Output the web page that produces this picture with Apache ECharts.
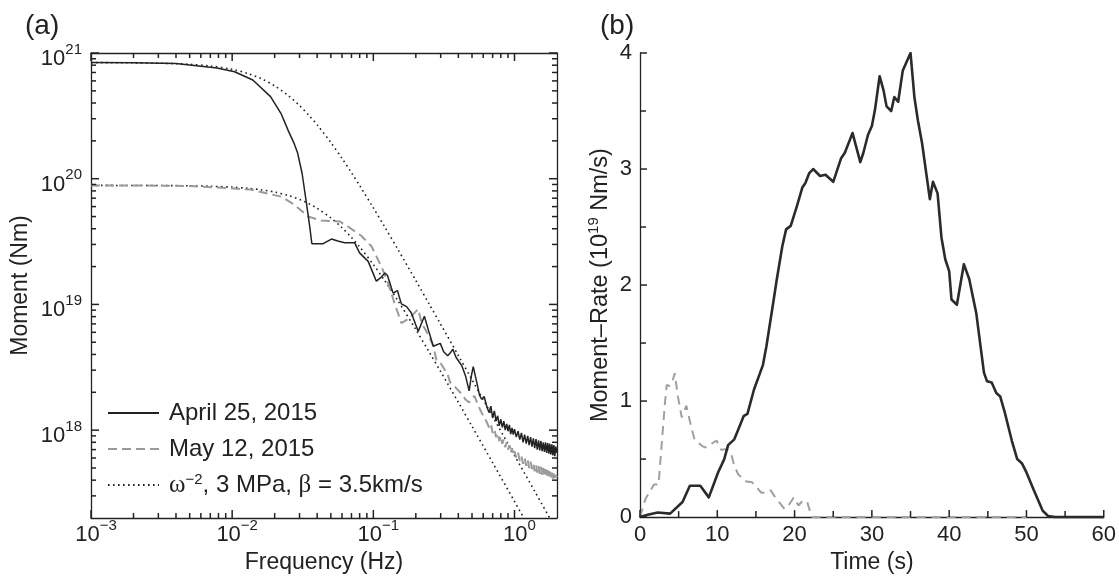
<!DOCTYPE html>
<html><head><meta charset="utf-8">
<script src="https://cdn.jsdelivr.net/npm/echarts@6/dist/echarts.min.js"></script>
<style>html,body{margin:0;padding:0;background:#fff}#c{width:1119px;height:579px}</style>
</head><body><div id="c"></div>
<script>
// ---------- DATA ----------
const seriesNames = ['April 25, 2015', 'May 12, 2015', 'ω^-2, 3 MPa, β = 3.5km/s'];

// (a) spectra
const freqApril = [0.001,0.002,0.004,0.0078,0.0104,0.014,0.0187,0.0222,0.025,0.0275,0.0291,0.0313,0.0335,0.0354,0.0367,0.0441,0.0505,0.056,0.0627,0.0736,0.0799,0.0919,0.1,0.105,0.114,0.121,0.126,0.138,0.148,0.158,0.172,0.186,0.208,0.23,0.245,0.266,0.298,0.315,0.336,0.35,0.366,0.385,0.405,0.424,0.45,0.477,0.495,0.51,0.52,0.545,0.565,0.585,0.61,0.638,
  0.66,0.68,0.70,0.72,0.74,0.76,0.78,0.80,0.82,0.84,0.86,0.88,0.90,0.92,0.94,0.96,0.98,1.00,1.03,1.06,1.09,1.12,1.15,1.18,1.21,1.24,1.27,1.30,1.33,1.36,1.39,1.42,1.45,1.48,1.51,1.54,1.57,1.60,1.63,1.66,1.69,1.72,1.75,1.78,1.81,1.84,1.87,1.90,1.93,1.96,2.00];
const momentApril = [8.4e20,8.38e20,8.25e20,7.6e20,7.1e20,6.1e20,4.5e20,3.3e20,2.4e20,1.9e20,1.6e20,1.1e20,6.5e19,4.2e19,3.04e19,3.04e19,3.31e19,3.2e19,3.1e19,3.1e19,2.57e19,2.2e19,1.75e19,1.53e19,1.65e19,1.78e19,1.7e19,1.23e19,1.29e19,1.01e19,9.6e18,8.55e18,6.1e18,8.05e18,6.3e18,4.65e18,4.9e18,4.2e18,3.9e18,4.1e18,4.4e18,3.8e18,3.5e18,3.24e18,2.7e18,2.05e18,2.7e18,3.2e18,3.15e18,2.3e18,1.9e18,1.76e18,1.85e18,1.52e18,
  1.38e18,1.55e18,1.25e18,1.42e18,1.18e18,1.30e18,1.08e18,1.22e18,1.05e18,1.18e18,1.00e18,1.12e18,0.98e18,1.10e18,0.93e18,1.04e18,0.92e18,1.02e18,0.88e18,0.98e18,0.84e18,0.95e18,0.80e18,0.92e18,0.78e18,0.90e18,0.76e18,0.88e18,0.74e18,0.86e18,0.72e18,0.85e18,0.70e18,0.83e18,0.69e18,0.82e18,0.68e18,0.80e18,0.67e18,0.80e18,0.66e18,0.79e18,0.65e18,0.78e18,0.64e18,0.77e18,0.63e18,0.76e18,0.62e18,0.74e18,0.66e18];

const freqMay = [0.001,0.002,0.005,0.008,0.0135,0.0222,0.0277,0.0345,0.0428,0.0576,0.066,0.0825,0.097,0.114,0.127,0.141,0.158,0.181,0.208,0.22,0.245,0.266,0.28,0.3,0.336,0.35,0.38,0.424,0.45,0.477,0.5,0.52,0.55,0.58,0.638,
  0.66,0.68,0.70,0.72,0.74,0.76,0.78,0.80,0.82,0.84,0.86,0.88,0.90,0.92,0.94,0.96,0.98,1.00,1.03,1.06,1.09,1.12,1.15,1.18,1.21,1.24,1.27,1.30,1.33,1.36,1.39,1.42,1.45,1.48,1.51,1.54,1.57,1.60,1.63,1.66,1.69,1.72,1.75,1.78,1.81,1.84,1.87,1.90,1.93,1.96,2.00];
const momentMay = [8.85e19,8.85e19,8.75e19,8.5e19,8.2e19,7.2e19,6.2e19,5.0e19,4.65e19,4.57e19,4.17e19,3.5e19,2.9e19,2.0e19,1.49e19,1.03e19,7.1e18,7.8e18,9.2e18,7.1e18,5.75e18,4.65e18,3.6e18,3.4e18,2.78e18,2.4e18,2.2e18,1.93e18,1.75e18,1.66e18,1.8e18,1.87e18,1.6e18,1.4e18,1.15e18,
  1.05e18,1.12e18,0.95e18,1.02e18,0.88e18,0.95e18,0.82e18,0.90e18,0.78e18,0.84e18,0.73e18,0.80e18,0.70e18,0.76e18,0.66e18,0.72e18,0.63e18,0.68e18,0.60e18,0.66e18,0.57e18,0.62e18,0.54e18,0.60e18,0.52e18,0.58e18,0.50e18,0.56e18,0.49e18,0.54e18,0.47e18,0.53e18,0.46e18,0.52e18,0.45e18,0.51e18,0.44e18,0.50e18,0.43e18,0.49e18,0.42e18,0.48e18,0.42e18,0.47e18,0.41e18,0.46e18,0.40e18,0.45e18,0.40e18,0.44e18,0.42e18];

const freqModel = [0.001,0.002,0.003,0.005,0.007,0.01,0.013,0.016,0.02,0.025,0.03,0.035,0.04,0.05,0.06,0.07,0.08,0.1,0.12,0.15,0.2,0.25,0.3,0.4,0.5,0.7,1.0,1.4,2.0];
const modelApril = [8.389e20,8.355e20,8.30e20,8.13e20,7.885e20,7.41e20,6.857e20,6.264e20,5.48e20,4.584e20,3.82e20,3.19e20,2.683e20,1.94e20,1.45e20,1.116e20,8.82e19,5.866e19,4.162e19,2.712e19,1.548e19,9.97e18,6.95e18,3.923e18,2.515e18,1.285e18,6.30e17,3.216e17,1.576e17];
const modelMay = [8.847e19,8.838e19,8.824e19,8.779e19,8.711e19,8.571e19,8.388e19,8.169e19,7.83e19,7.353e19,6.843e19,6.325e19,5.817e19,4.877e19,4.073e19,3.408e19,2.869e19,2.078e19,1.555e19,1.062e19,6.307e18,4.141e18,2.918e18,1.666e18,1.073e18,5.507e17,2.708e17,1.384e17,6.787e16];

// (b) moment-rate functions (10^19 Nm/s)
const timeApril = [0,1,2.3,3.9,5.5,6.45,7.8,8.9,10.1,10.9,11.4,12.2,12.9,13.4,13.9,14.75,15.9,16.35,17.3,17.7,18.4,18.9,19.5,20.3,21.0,21.4,21.9,22.4,23.3,24.0,25.0,26.0,26.5,27.5,28.5,28.9,29.5,30.0,30.4,31.0,31.5,31.9,32.5,32.9,33.4,34.0,35.0,35.5,35.95,36.5,37.5,37.9,38.5,39.0,39.5,40.0,40.3,41.0,41.9,42.6,43.5,44.5,44.9,45.5,46.1,46.6,47.2,48.1,48.8,49.4,50.0,50.9,52.1,52.8,53.7,60];
const rateApril = [0,0.02,0.04,0.03,0.13,0.27,0.27,0.17,0.385,0.5,0.62,0.67,0.785,0.87,0.89,1.10,1.31,1.47,1.875,2.05,2.33,2.48,2.51,2.68,2.84,2.88,2.965,3.0,2.94,2.95,2.89,3.09,3.14,3.31,3.06,3.14,3.295,3.37,3.51,3.80,3.68,3.54,3.50,3.62,3.58,3.85,4.0,3.62,3.42,3.22,2.74,2.89,2.79,2.41,2.22,2.12,1.875,1.83,2.18,2.05,1.76,1.245,1.17,1.16,1.07,1.04,0.90,0.66,0.50,0.465,0.385,0.24,0.055,0.01,0,0];
const timeMay = [0,0.7,1.8,2.4,3.2,3.45,3.8,4.15,4.5,4.9,5.4,6.0,6.6,7.05,8.1,8.5,9.2,9.9,10.5,11.2,11.75,12.2,12.7,13.6,14.5,15.7,16.4,16.9,17.5,18.7,19.2,19.9,20.5,20.9,21.6,21.9,22.3,50];
const rateMay = [0,0.155,0.28,0.28,0.96,1.14,1.13,1.16,1.24,1.04,0.86,0.96,0.785,0.67,0.61,0.60,0.63,0.66,0.58,0.585,0.556,0.44,0.37,0.31,0.30,0.21,0.21,0.23,0.17,0.07,0.10,0.17,0.10,0.13,0.14,0.07,0,0];

// axis ranges and tick values
const freqRange = [0.001, 2];
const momentRange = [2e17, 1e21];
const timeRange = [0, 60];
const rateRange = [0, 4];
const freqMajorTicks = [0.001,0.01,0.1,1];
const freqMinorTicks = [0.002,0.003,0.004,0.005,0.006,0.007,0.008,0.009,0.02,0.03,0.04,0.05,0.06,0.07,0.08,0.09,0.2,0.3,0.4,0.5,0.6,0.7,0.8,0.9];
const momentMajorTicks = [1e18,1e19,1e20,1e21];
const momentMinorTicks = [3e17,4e17,5e17,6e17,7e17,8e17,9e17,2e18,3e18,4e18,5e18,6e18,7e18,8e18,9e18,2e19,3e19,4e19,5e19,6e19,7e19,8e19,9e19,2e20,3e20,4e20,5e20,6e20,7e20,8e20,9e20];
const timeTicks = [0,5,10,15,20,25,30,35,40,45,50,55,60];
const rateTicks = [0,0.5,1,1.5,2,2.5,3,3.5,4];

// ---------- CHART ----------
const FONT = '"Liberation Sans", Arial, Helvetica, sans-serif';
const INK = '#222222';
const pairs = (xs, ys) => xs.map((x, i) => [x, ys[i]]);

function powLabel(v) {
  const le = Math.log10(v), e = Math.round(le);
  if (Math.abs(le - e) > 1e-6) return '';
  return '{b|10}{s|' + (e < 0 ? '\u2212' + (-e) : e) + '}';
}
const powRich = {
  b: {fontSize: 22, lineHeight: 28, verticalAlign: 'bottom', fontFamily: FONT, color: INK},
  s: {fontSize: 15, lineHeight: 15, verticalAlign: 'top', fontFamily: FONT, color: INK}
};

const LG = {left: 91, top: 53, width: 466, height: 465};
const RG = {left: 640, top: 53, width: 466, height: 465};

function logAxis(o) {
  return {
    type: 'log', logBase: 10, gridIndex: 0, position: o.pos, min: o.range[0], max: o.range[1],
    axisLine: {show: true, lineStyle: {color: INK, width: 1.3}},
    axisTick: {show: false}, minorTick: {show: false},
    axisLabel: o.label ? Object.assign({show: true, formatter: powLabel, rich: powRich}, o.label) : {show: false},
    splitLine: {show: false},
    name: o.name || '', nameLocation: 'middle', nameGap: o.nameGap || 0, nameRotate: o.nameRotate,
    nameTextStyle: {fontFamily: FONT, fontSize: 23, color: INK}
  };
}

// tick marks drawn through the axes' own scales (api.coord)
const tickStyle = {stroke: INK, lineWidth: 1.5};
function tickLine(x1, y1, x2, y2) {
  return {type: 'line', shape: {x1: x1, y1: y1, x2: x2, y2: y2}, style: tickStyle, silent: true};
}
function renderXTicks(yLo, yHi, both) {
  return function (params, api) {
    const v = api.value(0), len = api.value(2);
    const b = api.coord([v, yLo]), t = api.coord([v, yHi]);
    const ch = [tickLine(b[0], b[1], b[0], b[1] - len)];
    if (both) ch.push(tickLine(t[0], t[1], t[0], t[1] + len));
    return {type: 'group', children: ch};
  };
}
function renderYTicks(xLo, xHi, both) {
  return function (params, api) {
    const v = api.value(1), len = api.value(2);
    const l = api.coord([xLo, v]), r = api.coord([xHi, v]);
    const ch = [tickLine(l[0], l[1], l[0] + len, l[1])];
    if (both) ch.push(tickLine(r[0], r[1], r[0] - len, r[1]));
    return {type: 'group', children: ch};
  };
}
function tickSeries(name, xi, yi, data, render) {
  return {name: name, type: 'custom', xAxisIndex: xi, yAxisIndex: yi, data: data, renderItem: render,
          encode: {x: 0, y: 1}, clip: false, silent: true, z: 6};
}
const freqTickData = freqMajorTicks.map(f => [f, momentRange[0], 8]).concat(freqMinorTicks.map(f => [f, momentRange[0], 5]));
const momentTickData = momentMajorTicks.map(m => [freqRange[0], m, 8]).concat(momentMinorTicks.map(m => [freqRange[0], m, 5]));
const timeTickData = timeTicks.map(t => [t, rateRange[0], t % 10 === 0 ? 7 : 6]);
const rateTickData = rateTicks.map(r => [timeRange[0], r, r % 1 === 0 ? 7 : 6]);

const option = {
  animation: false,
  textStyle: {fontFamily: FONT},
  title: [
    {text: '(a)', left: 20, top: 7, textStyle: {fontFamily: FONT, fontSize: 28, fontWeight: 'normal', color: INK}},
    {text: '(b)', left: 595, top: 7, textStyle: {fontFamily: FONT, fontSize: 28, fontWeight: 'normal', color: INK}}
  ],
  grid: [Object.assign({}, LG), Object.assign({}, RG)],
  legend: {
    data: seriesNames, orient: 'vertical', left: 107, top: 400, padding: 0,
    itemWidth: 51, itemHeight: 12, itemGap: 10,
    itemStyle: {opacity: 0},
    textStyle: {fontFamily: FONT, fontSize: 24, color: INK, lineHeight: 26, padding: [0, 0, 0, 5],
      rich: {
        w: {fontFamily: '"Liberation Serif", "DejaVu Serif", serif', fontSize: 25, lineHeight: 26, color: INK},
        sup: {fontFamily: FONT, fontSize: 15, lineHeight: 15, verticalAlign: 'top', color: INK}
      }},
    formatter: function (n) {
      if (n === seriesNames[2]) return '{w|ω}{sup|\u22122}, 3 MPa, {w|β} = 3.5km/s';
      return n;
    }
  },
  xAxis: [
    logAxis({pos: 'bottom', range: freqRange, label: {margin: 0, padding: [0, 0, 0, 10]}, name: 'Frequency (Hz)', nameGap: 32}),
    logAxis({pos: 'top', range: freqRange}),
    {
      type: 'value', gridIndex: 1, min: timeRange[0], max: timeRange[1], interval: 10,
      axisLine: {show: true, lineStyle: {color: INK, width: 1.3}},
      axisTick: {show: false}, minorTick: {show: false},
      axisLabel: {margin: 7, fontFamily: FONT, fontSize: 22, color: INK},
      splitLine: {show: false},
      name: 'Time (s)', nameLocation: 'middle', nameGap: 32,
      nameTextStyle: {fontFamily: FONT, fontSize: 23, color: INK}
    }
  ],
  yAxis: [
    logAxis({pos: 'left', range: momentRange, label: {margin: 9, padding: [6, 0, 0, 0]}, name: 'Moment (Nm)', nameGap: 59, nameRotate: 90}),
    logAxis({pos: 'right', range: momentRange}),
    {
      type: 'value', gridIndex: 1, min: rateRange[0], max: rateRange[1], interval: 1,
      axisLine: {show: true, lineStyle: {color: INK, width: 1.3}},
      axisTick: {show: false}, minorTick: {show: false},
      axisLabel: {margin: 8, fontFamily: FONT, fontSize: 22, color: INK},
      splitLine: {show: false},
      name: 'Moment\u2013Rate (10{sup|19} Nm/s)', nameLocation: 'middle', nameGap: 15, nameRotate: 90,
      nameTextStyle: {fontFamily: FONT, fontSize: 23.5, color: INK, lineHeight: 30,
        rich: {sup: {fontFamily: FONT, fontSize: 15, lineHeight: 15, verticalAlign: 'top', color: INK}}}
    }
  ],
  series: [
    {name: seriesNames[2], type: 'line', xAxisIndex: 0, yAxisIndex: 0, data: pairs(freqModel, modelApril),
     symbol: 'none', smooth: 0.3, clip: true, lineStyle: {color: '#222222', width: 1.6, type: [1.6, 3.4]}, itemStyle: {color: '#222222'}, z: 2},
    {name: seriesNames[2], type: 'line', xAxisIndex: 0, yAxisIndex: 0, data: pairs(freqModel, modelMay),
     symbol: 'none', smooth: 0.3, clip: true, lineStyle: {color: '#222222', width: 1.6, type: [1.6, 3.4]}, itemStyle: {color: '#222222'}, z: 2},
    {name: seriesNames[1], type: 'line', xAxisIndex: 0, yAxisIndex: 0, data: pairs(freqMay, momentMay),
     symbol: 'none', clip: true, lineStyle: {color: '#9a9a9a', width: 2, type: [9, 5]}, itemStyle: {color: '#9a9a9a'}, z: 3},
    {name: seriesNames[0], type: 'line', xAxisIndex: 0, yAxisIndex: 0, data: pairs(freqApril, momentApril),
     symbol: 'none', clip: true, lineStyle: {color: '#222222', width: 1.5}, itemStyle: {color: '#222222'}, z: 4},
    {name: 'May 12, 2015 MRF', type: 'line', xAxisIndex: 2, yAxisIndex: 2, data: pairs(timeMay, rateMay),
     symbol: 'none', clip: true, lineStyle: {color: '#a0a0a0', width: 2, type: [9, 6]}, z: 3},
    {name: 'April 25, 2015 MRF', type: 'line', xAxisIndex: 2, yAxisIndex: 2, data: pairs(timeApril, rateApril),
     symbol: 'none', clip: true, lineStyle: {color: '#2b2b2b', width: 2.6, join: 'round'}, z: 4},
    tickSeries('freq ticks', 0, 0, freqTickData, renderXTicks(momentRange[0], momentRange[1], true)),
    tickSeries('moment ticks', 0, 0, momentTickData, renderYTicks(freqRange[0], freqRange[1], true)),
    tickSeries('time ticks', 2, 2, timeTickData, renderXTicks(rateRange[0], rateRange[1], false)),
    tickSeries('rate ticks', 2, 2, rateTickData, renderYTicks(timeRange[0], timeRange[1], false))
  ]
};
const chart = echarts.init(document.getElementById('c'));
chart.setOption(option);
</script></body></html>
